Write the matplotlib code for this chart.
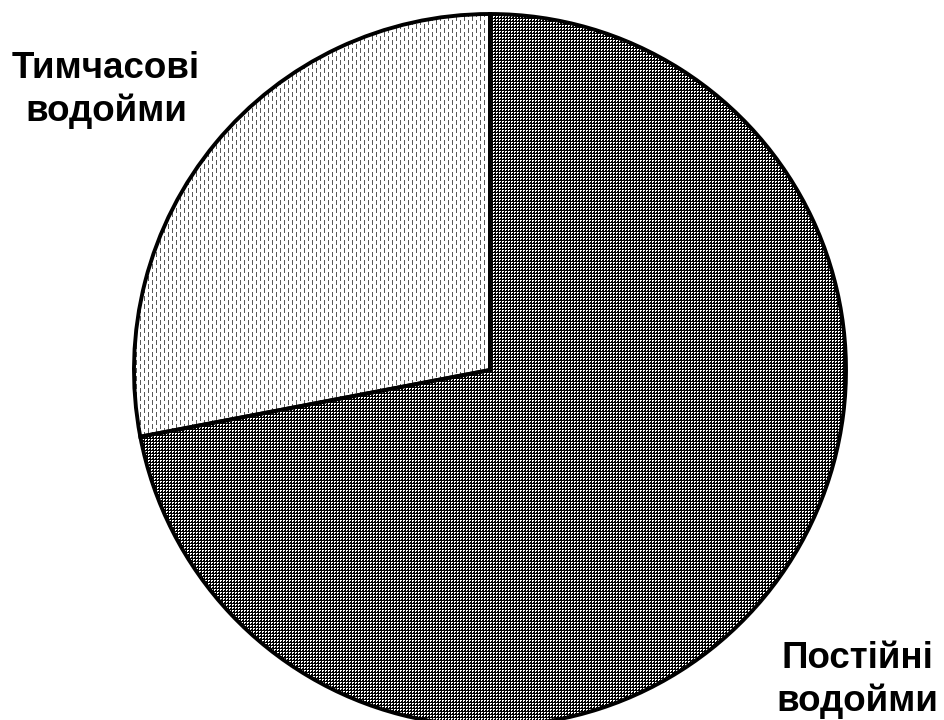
import numpy as np
import matplotlib
matplotlib.use("Agg")
import matplotlib.pyplot as plt

# data
labels = ["Тимчасові\nводойми", "Постійні\nводойми"]
values = [28, 72]

W, H = 944, 720

fig = plt.figure(figsize=(W / 100., H / 100.), dpi=100)
ax = fig.add_axes([0, 0, 1, 1])

wedges, _ = ax.pie(values, startangle=90, counterclock=True,
                   center=(490, 350), radius=356, frame=True,
                   wedgeprops=dict(facecolor="none", edgecolor="black", linewidth=2.8))
ax.set_aspect("equal")
ax.axis("off")

# textures (pixel patterns)
yy, xx = np.mgrid[0:H, 0:W]

# light: staggered vertical gray dashes
light = np.ones((H, W, 3))
col = (xx % 4 == 0)
phase = ((yy + 4 * ((xx // 4) % 2)) % 8) < 5
light[col & phase] = 0.35

# dark: dense checker grid
dark = np.zeros((H, W, 3))
wmask = ((xx % 3 != 0) & (yy % 3 == 1)) | ((xx % 3 == 1) & (yy % 3 == 2))
dark[wmask] = 1.0

for w, tex in zip(wedges, [light, dark]):
    im = ax.imshow(tex, extent=(0, W, 0, H), origin="upper",
                   interpolation="nearest", zorder=0.5)
    im.set_clip_path(w)
    w.set_zorder(2)

ax.set_xlim(0, W)
ax.set_ylim(0, H)

ax.text(106, H - 90, labels[0], ha="center", va="center", fontsize=26.5,
        fontweight="bold", family="Liberation Sans", linespacing=1.25)
ax.text(857, H - 680, labels[1], ha="center", va="center", fontsize=26.5,
        fontweight="bold", family="Liberation Sans", linespacing=1.25)

fig.savefig("out.png", dpi=100)
